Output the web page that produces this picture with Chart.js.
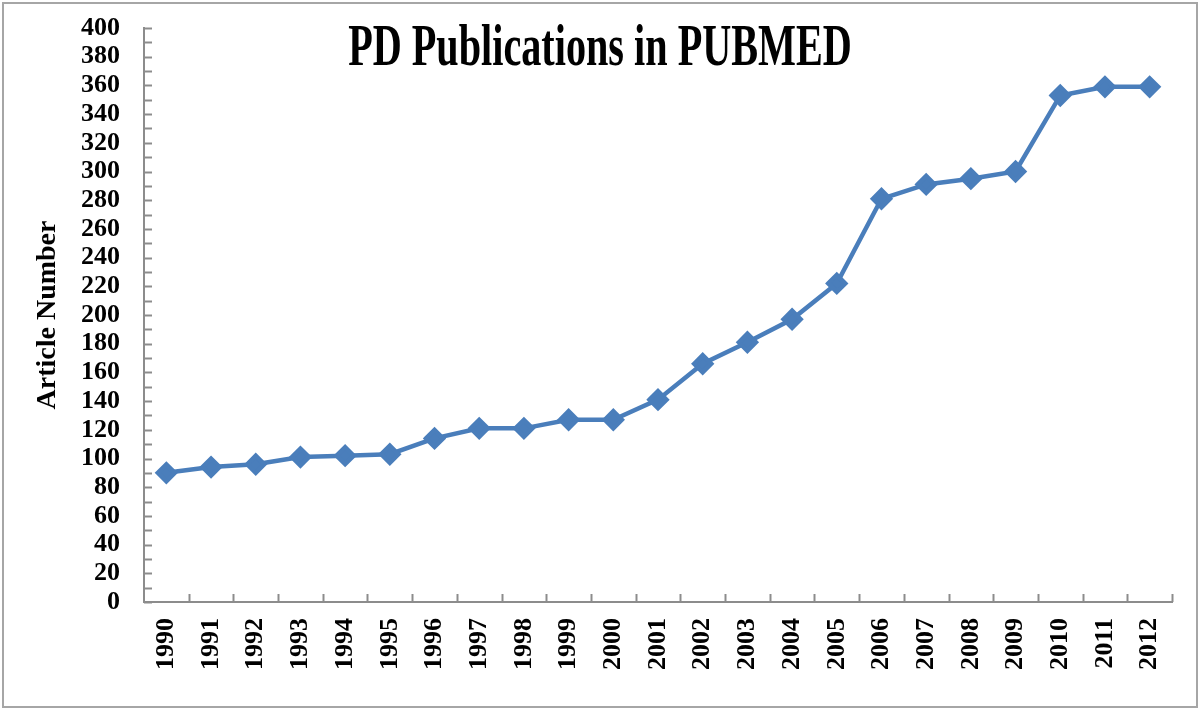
<!DOCTYPE html>
<html>
<head>
<meta charset="utf-8">
<title>PD Publications in PUBMED</title>
<script src="https://cdn.jsdelivr.net/npm/chart.js@4.4.1/dist/chart.umd.min.js"></script>
<style>
  html, body { margin: 0; padding: 0; background: #fff; }
  #wrap { width: 1200px; height: 710px; }
</style>
</head>
<body>
<div id="wrap"><canvas id="chart"></canvas></div>
<script>
// years and article counts
const years = ['1990', '1991', '1992', '1993', '1994', '1995', '1996', '1997', '1998', '1999', '2000',
  '2001', '2002', '2003', '2004', '2005', '2006', '2007', '2008', '2009', '2010', '2011', '2012'];
const articles = [90, 94, 96, 101, 102, 103, 114, 121, 121, 127, 127,
  141, 166, 181, 197, 222, 281, 291, 295, 300, 353, 359, 359];

const chartTitle = 'PD Publications in PUBMED';
const yTitle = 'Article Number';
const yMax = 400;

const serif = '"Liberation Serif", "Times New Roman", serif';
const axisGrey = '#8c8c8c';

// frame + title + inward tick marks, like the excel original
const decorations = {
  id: 'decorations',
  afterDraw(chart) {
    const ctx = chart.ctx;
    const area = chart.chartArea;
    const y = chart.scales.y;

    ctx.save();
    ctx.strokeStyle = axisGrey;
    ctx.lineWidth = 2;

    // y ticks every 10, pointing right into the plot
    y.ticks.forEach(t => {
      const py = Math.round(y.getPixelForValue(t.value)) + 0.5;
      ctx.beginPath();
      ctx.moveTo(area.left, py);
      ctx.lineTo(area.left + 8, py);
      ctx.stroke();
    });

    // x ticks on category boundaries, pointing up
    const w = area.width / years.length;
    for (let i = 1; i <= years.length; i++) {
      const px = Math.round(area.left + i * w) + 0.5;
      ctx.beginPath();
      ctx.moveTo(px, area.bottom);
      ctx.lineTo(px, area.bottom - 8);
      ctx.stroke();
    }

    // outer frame
    ctx.strokeStyle = '#a6a6a6';
    ctx.strokeRect(3, 3, chart.width - 6, chart.height - 6);

    // condensed bold title sitting inside the plot
    ctx.fillStyle = '#000';
    ctx.font = 'bold 60px ' + serif;
    ctx.textAlign = 'center';
    ctx.textBaseline = 'alphabetic';
    ctx.translate(600, 65);
    ctx.scale(0.67, 1);
    ctx.fillText(chartTitle, 0, 0);
    ctx.restore();
  }
};

window.addEventListener('DOMContentLoaded', () => {
  const ctx = document.getElementById('chart').getContext('2d');

  new Chart(ctx, {
    type: 'line',
    data: {
      labels: years,
      datasets: [{
        label: yTitle,
        data: articles,
        borderColor: '#4a7ebb',
        backgroundColor: '#4a7ebb',
        borderWidth: 4.5,
        pointStyle: 'rectRot',
        pointRadius: 8.5,
        pointHoverRadius: 8.5,
        tension: 0,
        fill: false
      }]
    },
    options: {
      responsive: true,
      maintainAspectRatio: false,
      animation: false,
      layout: { padding: { left: 0, top: 28, right: 28, bottom: 0 } },
      plugins: {
        legend: { display: false },
        tooltip: { enabled: false },
        title: { display: false }
      },
      scales: {
        x: {
          offset: true,
          grid: { display: false, drawTicks: false },
          border: { color: axisGrey, width: 2 },
          ticks: {
            color: '#000',
            font: { family: serif, size: 26, weight: 'bold' },
            minRotation: 90,
            maxRotation: 90,
            autoSkip: false,
            padding: 16
          },
          afterFit(scale) {
            scale.height = 108;
            scale.paddingLeft = 0;
            scale.paddingRight = 0;
          }
        },
        y: {
          min: 0,
          max: yMax,
          grid: { display: false, drawTicks: false },
          border: { color: axisGrey, width: 2 },
          ticks: {
            stepSize: 10,
            autoSkip: false,
            color: '#000',
            font: { family: serif, size: 26, weight: 'bold' },
            padding: 24,
            callback: v => (v % 20 === 0 ? v : '')
          },
          title: {
            display: true,
            text: yTitle,
            color: '#000',
            font: { family: serif, size: 28, weight: 'bold' },
            padding: { top: 31, bottom: 0 }
          },
          afterFit(scale) {
            scale.width = 144;
            scale.paddingTop = 0;
            scale.paddingBottom = 0;
          }
        }
      }
    },
    plugins: [decorations]
  });
});
</script>
</body>
</html>
